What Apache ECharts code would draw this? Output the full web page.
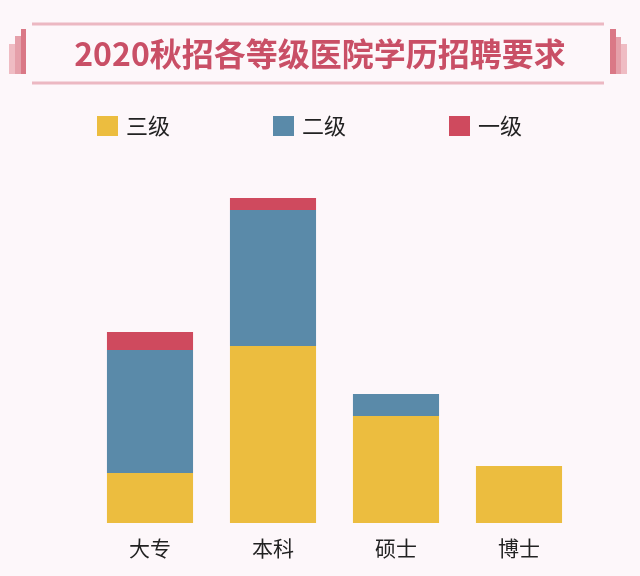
<!DOCTYPE html>
<html>
<head>
<meta charset="utf-8">
<script src="https://cdn.jsdelivr.net/npm/echarts@6/dist/echarts.min.js"></script>
<style>
html,body{margin:0;padding:0;background:#fdf7fa;}
#main{width:640px;height:576px;}
</style>
</head>
<body>
<div id="main"></div>
<script>
const titleText = '2020秋招各等级医院学历招聘要求';
const categories = ['大专', '本科', '硕士', '博士'];
const seriesNames = ['三级', '二级', '一级'];
const level3 = [50, 177, 107, 57];
const level2 = [123, 136, 22, 0];
const level1 = [18, 12, 0, 0];

const colors = ['#ecbd3f', '#5a8aa9', '#cf4a5e'];
const font = '"Noto Sans CJK SC", "Noto Sans", sans-serif';

const chart = echarts.init(document.getElementById('main'), null, {renderer: 'canvas'});

const deco = [];
deco.push({type: 'rect', shape: {x: 32, y: 22.5, width: 572, height: 3}, style: {fill: '#ecb8c2'}, silent: true});
deco.push({type: 'rect', shape: {x: 32, y: 81.5, width: 572, height: 3}, style: {fill: '#ecb8c2'}, silent: true});
deco.push({type: 'rect', shape: {x: 9, y: 44, width: 6, height: 30}, style: {fill: '#efbcc3'}, silent: true});
deco.push({type: 'rect', shape: {x: 15, y: 36, width: 6, height: 38}, style: {fill: '#e5a0aa'}, silent: true});
deco.push({type: 'rect', shape: {x: 21, y: 29, width: 5, height: 45}, style: {fill: '#da7886'}, silent: true});
deco.push({type: 'rect', shape: {x: 610, y: 29, width: 6, height: 45}, style: {fill: '#da7886'}, silent: true});
deco.push({type: 'rect', shape: {x: 616, y: 37, width: 5, height: 37}, style: {fill: '#e5a0aa'}, silent: true});
deco.push({type: 'rect', shape: {x: 621, y: 44, width: 6, height: 30}, style: {fill: '#efbcc3'}, silent: true});

const option = {
  backgroundColor: '#fdf7fa',
  animation: false,
  color: colors,
  title: {
    text: titleText,
    left: 'center',
    top: 38,
    padding: 0,
    textStyle: {fontFamily: font, fontSize: 32, fontWeight: 'bold', color: '#c94f66'}
  },
  graphic: deco,
  legend: {
    data: seriesNames,
    left: 97,
    top: 115,
    padding: 0,
    icon: 'rect',
    itemWidth: 21,
    itemHeight: 20,
    itemGap: 103,
    textStyle: {fontFamily: font, fontSize: 22, color: '#222', padding: [0, 0, 0, 3]}
  },
  grid: {left: 88.5, right: 59.5, top: 173, bottom: 53, containLabel: false},
  xAxis: {
    type: 'category',
    data: categories,
    axisLine: {show: false},
    axisTick: {show: false},
    axisLabel: {fontFamily: font, fontSize: 21, color: '#222', margin: 15}
  },
  yAxis: {
    type: 'value',
    min: 0,
    max: 350,
    show: false,
    splitLine: {show: false}
  },
  series: [
    {name: seriesNames[0], type: 'bar', stack: 'a', data: level3, barWidth: '70%'},
    {name: seriesNames[1], type: 'bar', stack: 'a', data: level2, barWidth: '70%'},
    {name: seriesNames[2], type: 'bar', stack: 'a', data: level1, barWidth: '70%'}
  ]
};
chart.setOption(option);
</script>
</body>
</html>
